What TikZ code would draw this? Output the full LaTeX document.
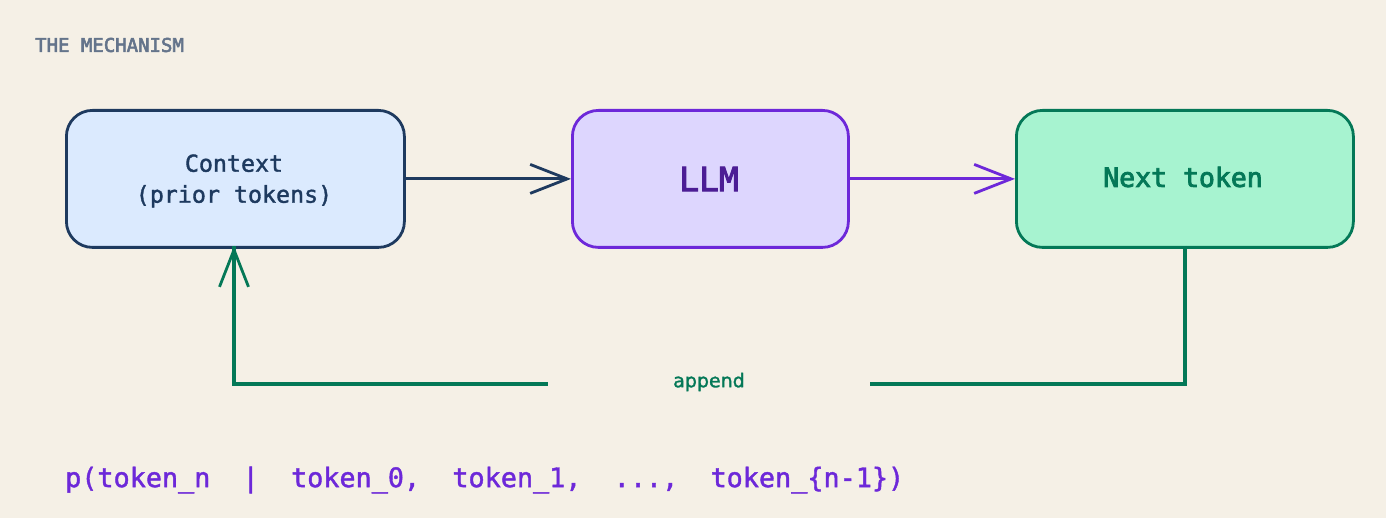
\documentclass[tikz,border=0pt]{standalone}
\usepackage{fontspec}
\usetikzlibrary{arrows.meta}
\newfontfamily\monof[FakeBold=1.5]{DejaVu Sans Mono}
\newfontfamily\monom[FakeBold=3]{DejaVu Sans Mono}
\newfontfamily\sansf[FakeBold=1.5]{DejaVu Sans}
\definecolor{bg}{HTML}{F5F0E6}
\definecolor{navy}{HTML}{1E3A5F}
\definecolor{ctxfill}{HTML}{DBEAFE}
\definecolor{llmfill}{HTML}{DDD6FE}
\definecolor{llmline}{HTML}{6D28D9}
\definecolor{llmtext}{HTML}{4C1D95}
\definecolor{nextfill}{HTML}{A7F3D0}
\definecolor{nextline}{HTML}{047857}
\definecolor{greytext}{HTML}{64748B}
\tikzset{
  box/.style={draw, line width=2.8pt, rounded corners=26pt, inner sep=0pt, anchor=north west},
  barb/.style={-{Straight Barb[length=37pt,width=29pt,line width=2.8pt]}, line width=2.8pt},
  loopline/.style={line width=3.1pt, draw=nextline},
}
\begin{document}
\begin{tikzpicture}[x=1pt,y=-1pt]
\fill[bg] (0,0) rectangle (1386,518);
\useasboundingbox (0,0) rectangle (1386,518);

\node[anchor=west, inner sep=0pt, text=greytext, font=\monom\fontsize{19}{22}\selectfont] (title) at (35,45) {THE MECHANISM};

\node[box, draw=navy, fill=ctxfill, minimum width=338pt, minimum height=137pt] (ctx) at (65,109) {};
\node[text=navy, align=center, font=\monof\fontsize{23.3}{31}\selectfont] (ctxlabel) at (234,181) {Context\\(prior tokens)};

\node[box, draw=llmline, fill=llmfill, minimum width=276pt, minimum height=137pt] (llm) at (571,109) {};
\node[text=llmtext, font=\monom\fontsize{33}{36}\selectfont] (llmlabel) at (709,179) {LLM};

\node[box, draw=nextline, fill=nextfill, minimum width=337pt, minimum height=137pt] (next) at (1015,109) {};
\node[text=nextline, font=\monom\fontsize{26.5}{30}\selectfont] (nextlabel) at (1183,177) {Next token};

\draw[barb, navy] (ctx.east) -- (llm.west);
\draw[barb, llmline] (llm.east) -- (next.west);

\coordinate (c1) at (1185,384);
\coordinate (c2) at (234,384);
\coordinate (nb) at (1185,246);
\coordinate (cb) at (234,246);
\draw[loopline] (nb) -- (c1) -- (c2) -- (cb);
\draw[barb, nextline] (c2) -- (cb);
\node[fill=bg, inner sep=0pt, minimum width=322pt, minimum height=20pt, text=nextline, font=\sansf\fontsize{19}{22}\selectfont] (append) at (709,382) {append};

\node[anchor=west, text=llmline, font=\monof\fontsize{26.8}{30}\selectfont, inner sep=0pt] (formula) at (65,480) {p(token\_n\ \ |\ \ token\_0,\ \ token\_1,\ \ ...,\ \ token\_\{n-1\})};
\end{tikzpicture}
\end{document}
